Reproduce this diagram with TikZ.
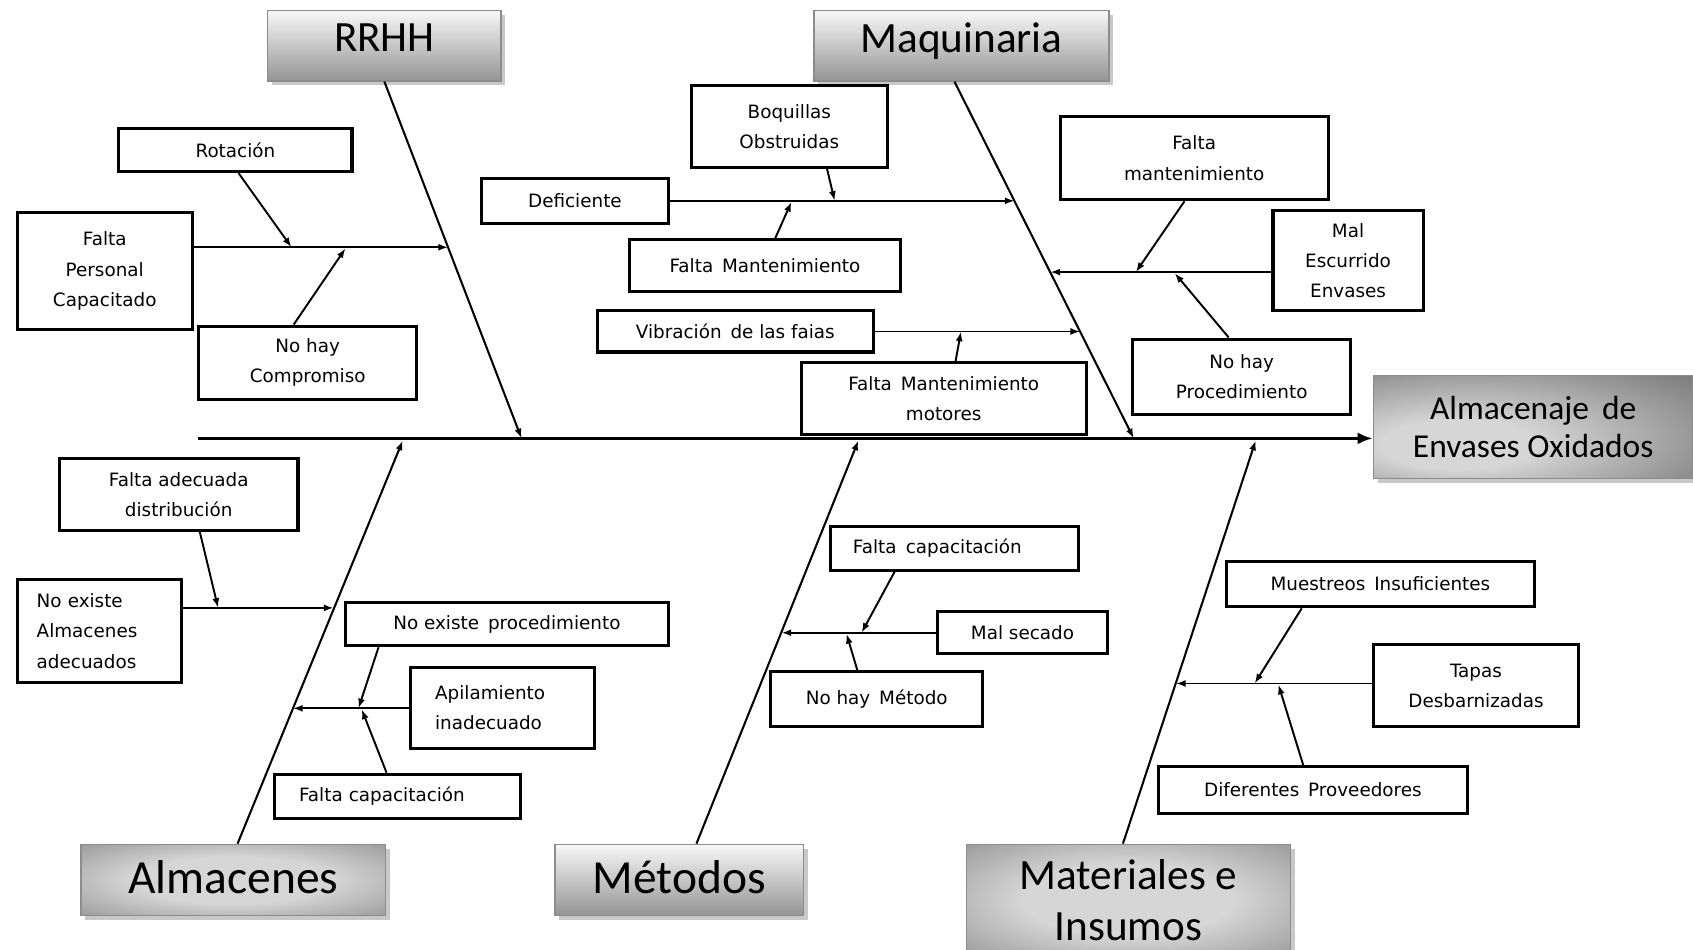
\documentclass[tikz,border=0pt]{standalone}
\usepackage{fontspec}
\setmainfont{DejaVu Sans}
\newfontfamily\headfont{Carlito}
\usetikzlibrary{arrows.meta,shadows}

\definecolor{glowin}{gray}{0.84}
\definecolor{glowout}{gray}{0.42}
% soft centred glow for the darker category boxes
\pgfdeclareradialshading{softglow}{\pgfpoint{0bp}{0bp}}{%
  color(0bp)=(glowin); color(16bp)=(glowin); color(52bp)=(glowout); color(75bp)=(glowout)}
% glow pushed towards the lower left for the effect box
\pgfdeclareradialshading{cornerglow}{\pgfpoint{-14bp}{-10bp}}{%
  color(0bp)=(glowin); color(12bp)=(glowin); color(48bp)=(glowout); color(75bp)=(glowout)}

\tikzset{
  cause/.style={draw=black, line width=2.8pt, fill=white, inner sep=0pt,
    font=\fontsize{17}{28}\selectfont, align=center},
  causeleft/.style={cause, align=left, inner xsep=#1},
  head/.style={draw=black!45, line width=1.2pt, inner sep=0pt, align=center,
    drop shadow={shadow xshift=4pt, shadow yshift=-4pt, fill=black!30, opacity=0.7}},
  headlin/.style={head, top color=black!3, bottom color=black!42},
  headrad/.style={head, shading=softglow},
  bone/.style={line width=1.9pt, -{Latex[length=9pt,width=6.5pt]}},
  twig/.style={line width=1.8pt, -{Latex[length=9pt,width=6.5pt]}},
  spine/.style={line width=3.4pt, -{Latex[length=14pt,width=11pt]}},
}

\begin{document}
\begin{tikzpicture}[x=1pt,y=-1pt]
\fill[white] (0,0) rectangle (1568,879);
\useasboundingbox (0,0) rectangle (1568,879);

% ---- category and effect boxes
\node[headlin, minimum width=216pt, minimum height=65pt, text depth=15pt,
  font=\headfont\fontsize{40}{47}\selectfont] (hR) at (356,42.5) {RRHH};
\node[headlin, minimum width=273pt, minimum height=65pt, text depth=15pt,
  font=\headfont\fontsize{40}{47}\selectfont] (hM) at (890.5,42.5) {Maquinaria};
\node[headrad, minimum width=282pt, minimum height=66pt, text depth=6pt,
  font=\headfont\fontsize{44}{50}\selectfont] (hA) at (216,815) {Almacenes};
\node[headlin, minimum width=230pt, minimum height=66pt, text depth=6pt,
  font=\headfont\fontsize{44}{50}\selectfont] (hMe) at (629,815) {Métodos};
\node[headrad, minimum width=300pt, minimum height=103pt,
  font=\headfont\fontsize{40}{47}\selectfont] (hMa) at (1045,833.5) {Materiales e\\Insumos};
\node[head, shading=cornerglow, minimum width=296pt, minimum height=95pt,
  font=\headfont\fontsize{31}{36}\selectfont] (hE) at (1420,395.5) {Almacenaje\, de\\Envases Oxidados};

% ---- causes: RRHH
\node[cause, minimum width=216pt, minimum height=40pt] (rot) at (218,139) {Rotación};
\node[cause, minimum width=162pt, minimum height=108pt] (fpc) at (97,251) {Falta\\Personal\\Capacitado};
\node[cause, minimum width=202pt, minimum height=68pt] (nhc) at (285,336) {No hay\\Compromiso};

% ---- causes: Maquinaria
\node[cause, minimum width=182pt, minimum height=76pt] (boq) at (731,117) {Boquillas\\Obstruidas};
\node[cause, minimum width=173pt, minimum height=42pt] (def) at (532.5,186) {Deficiente};
\node[cause, minimum width=251pt, minimum height=48pt] (fm1) at (708.5,246) {Falta\, Mantenimiento};
\node[cause, minimum width=256pt, minimum height=38pt] (vib) at (681,307) {Vibración\, de las faias};
\node[cause, minimum width=264pt, minimum height=66pt] (fmm) at (874,369) {Falta\, Mantenimiento\\motores};
\node[cause, minimum width=248pt, minimum height=77pt] (fm2) at (1106,146.5) {Falta\\mantenimiento};
\node[cause, minimum width=139pt, minimum height=93pt] (mal) at (1248.5,241.5) {Mal\\Escurrido\\Envases};
\node[cause, minimum width=202pt, minimum height=70pt] (nhp) at (1150,349) {No hay\\Procedimiento};

% ---- causes: Almacenes
\node[cause, minimum width=221pt, minimum height=66pt] (fad) at (165.5,458) {Falta adecuada\\distribución};
\node[causeleft=18pt, text width=116pt, minimum height=95pt] (nea) at (92,584.5) {No existe\\Almacenes\\adecuados};
\node[cause, minimum width=299pt, minimum height=40pt] (nep) at (469.5,578) {No existe\, procedimiento};
\node[causeleft=23pt, text width=125pt, minimum height=75pt] (api) at (465.5,655.5) {Apilamiento\\inadecuado};
\node[causeleft=23pt, text width=182pt, minimum height=41pt] (fc1) at (368,737.5) {Falta capacitación};

% ---- causes: Métodos
\node[causeleft=21pt, text width=188pt, minimum height=40pt] (fc2) at (884,508) {Falta\, capacitación};
\node[cause, minimum width=158pt, minimum height=39pt] (mse) at (947,585.5) {Mal secado};
\node[cause, minimum width=196pt, minimum height=51pt] (nhm) at (812,647.5) {No hay\, Método};

% ---- causes: Materiales e Insumos
\node[cause, minimum width=285pt, minimum height=42pt] (mue) at (1278.5,541) {Muestreos\, Insuficientes};
\node[cause, minimum width=190pt, minimum height=76pt] (tap) at (1367,635) {Tapas\\Desbarnizadas};
\node[cause, minimum width=286pt, minimum height=43pt] (dif) at (1216,731.5) {Diferentes\, Proveedores};

% ---- spine and main bones
\coordinate (tail) at (183,406);
\coordinate (bR) at (483,406);
\coordinate (bM) at (1050,406);
\coordinate (bA) at (373,408);
\coordinate (bMe) at (795,408);
\coordinate (bMa) at (1163,408);
\draw[spine] (tail) -- (tail -| hE.west);
\draw[bone] (hR.south) -- (bR);
\draw[bone] ([xshift=-6.5pt]hM.south) -- (bM);
\draw[bone] ([xshift=4pt]hA.north) -- (bA);
\draw[bone] ([xshift=16pt]hMe.north) -- (bMe);
\draw[bone] ([xshift=-5pt]hMa.north) -- (bMa);

% ---- RRHH branch
\coordinate (jR) at (415,229);
\coordinate (jR1) at (270,229);
\coordinate (jR2) at (320,230);
\draw[twig] (fpc.east |- jR) -- (jR);
\draw[twig] ([xshift=3pt]rot.south) -- (jR1);
\draw[twig] ([xshift=-13pt]nhc.north) -- (jR2);

% ---- Maquinaria branches
\coordinate (jM) at (939.7,186);
\coordinate (jM1) at (773,186);
\coordinate (jM2) at (733,187);
\draw[twig] (def.east |- jM) -- (jM);
\draw[twig] ([xshift=35pt]boq.south) -- (jM1);
\draw[twig] ([xshift=9.5pt]fm1.north) -- (jM2);

\coordinate (jV) at (1000.4,307);
\coordinate (jV1) at (890,307);
\draw[twig] (vib.east |- jV) -- (jV);
\draw[twig] ([xshift=11pt]fmm.north) -- (jV1);

\coordinate (jS) at (972.8,252);
\coordinate (jS1) at (1052,252);
\coordinate (jS2) at (1088,253);
\draw[twig] (mal.west |- jS) -- (jS);
\draw[twig] ([xshift=-9pt]fm2.south) -- (jS1);
\draw[twig] ([xshift=-12pt]nhp.north) -- (jS2);

% ---- Almacenes branches
\coordinate (jA) at (309,563);
\coordinate (jA1) at (202,563);
\draw[twig] (nea.east |- jA) -- (jA);
\draw[twig] ([xshift=19.5pt]fad.south) -- (jA1);

\coordinate (jP) at (271.3,656);
\coordinate (jP1) at (332,656);
\coordinate (jP2) at (335,657);
\draw[twig] (api.west |- jP) -- (jP);
\draw[twig] ([xshift=32pt]nep.south west) -- (jP1);
\draw[twig] ([xshift=-10pt]fc1.north) -- (jP2);

% ---- Métodos branch
\coordinate (jT) at (723.8,586);
\coordinate (jT1) at (798,586);
\coordinate (jT2) at (784,587);
\draw[twig] (mse.west |- jT) -- (jT);
\draw[twig] ([xshift=61pt]fc2.south west) -- (jT1);
\draw[twig] ([xshift=-18pt]nhm.north) -- (jT2);

% ---- Materiales e Insumos branch
\coordinate (jU) at (1089.1,633);
\coordinate (jU1) at (1162,633);
\coordinate (jU2) at (1184,634);
\draw[twig] (tap.west |- jU) -- (jU);
\draw[twig] ([xshift=71pt]mue.south west) -- (jU1);
\draw[twig] ([xshift=-9pt]dif.north) -- (jU2);
\end{tikzpicture}
\end{document}
